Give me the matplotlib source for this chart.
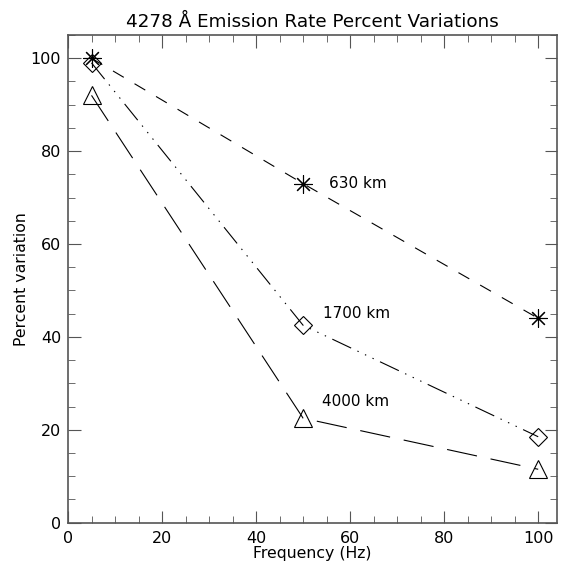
import matplotlib
matplotlib.use("Agg")
import matplotlib.pyplot as plt
from matplotlib.ticker import MultipleLocator

# frequency (Hz) and percent variation for each altitude
freq = [5, 50, 100]
var_630 = [100, 73, 44]
var_1700 = [99, 42.5, 18.5]
var_4000 = [92, 22.5, 11.5]

labels = ["630 km", "1700 km", "4000 km"]
label_x = [55.5, 54.2, 54.0]
label_y = [73, 45, 26]

plt.rcParams["font.family"] = ["DejaVu Sans"]
plt.rcParams["lines.scale_dashes"] = False

fig = plt.figure(figsize=(5.61, 5.70), dpi=100)
ax = fig.add_axes([0.1212, 0.083, 0.8717, 0.8556])

ax.plot(freq, var_630, color="black", lw=0.8, linestyle=(0, (9, 9)),
		marker=(8, 2, 0), markersize=13, markeredgewidth=0.8)
ax.plot(freq, var_1700, color="black", lw=0.8,
		linestyle=(0, (15, 5, 1, 5, 1, 5, 1, 5)),
		marker="D", markersize=9.5, markerfacecolor="none", markeredgewidth=0.8)
ax.plot(freq, var_4000, color="black", lw=0.8, linestyle=(0, (22, 10)),
		marker="^", markersize=13, markerfacecolor="none", markeredgewidth=0.8)

for txt, tx, ty in zip(labels, label_x, label_y):
	ax.text(tx, ty, txt, fontsize=11, va="center", ha="left")

ax.set_xlim(0, 104)
ax.set_ylim(0, 105)
ax.xaxis.set_major_locator(MultipleLocator(20))
ax.xaxis.set_minor_locator(MultipleLocator(5))
ax.yaxis.set_major_locator(MultipleLocator(20))
ax.yaxis.set_minor_locator(MultipleLocator(5))
ax.tick_params(which="both", direction="in", top=True, right=True,
			   color="#555555", labelsize=11.5)
ax.tick_params(which="major", length=9)
ax.tick_params(which="minor", length=5)
ax.tick_params(axis="x", which="both", pad=6)
ax.tick_params(axis="y", which="both", pad=5)
for s in ax.spines.values():
	s.set_color("#555555")
	s.set_linewidth(1.2)

ax.set_xlabel("Frequency (Hz)", fontsize=11.3, labelpad=0)
ax.set_ylabel("Percent variation", fontsize=11.3, labelpad=1)
ax.set_title("4278 Å Emission Rate Percent Variations", fontsize=13.2, pad=6)

fig.savefig("out.png", dpi=100)
